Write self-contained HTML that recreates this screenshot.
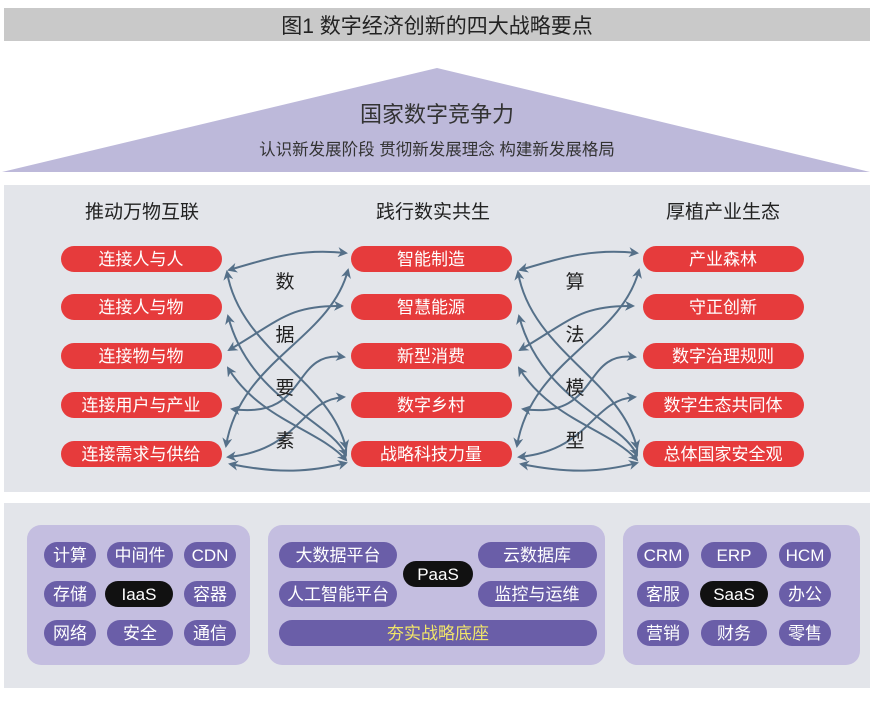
<!DOCTYPE html>
<html><head><meta charset="utf-8">
<style>
body{margin:0;width:884px;height:699px;background:#fff;overflow:hidden}
svg text{font-family:"Liberation Sans","Noto Sans CJK SC",sans-serif}
</style></head><body>
<svg width="884" height="699" viewBox="0 0 884 699" xmlns="http://www.w3.org/2000/svg">
<defs>
<marker id="ah" viewBox="0 0 10 10" refX="8" refY="5" markerWidth="5" markerHeight="5" orient="auto-start-reverse">
<path d="M0,0 L10,5 L0,10 L3,5 z" fill="#557089"/>
</marker>
<g id="arr" fill="none" stroke="#557089" stroke-width="2" marker-start="url(#ah)" marker-end="url(#ah)">
<path d="M229,270 C270,258 300,248 346,253"/>
<path d="M227,272 C240,350 330,380 346,448"/>
<path d="M228,316 C250,400 330,420 346,455"/>
<path d="M228,368 C260,420 320,430 346,460"/>
<path d="M229,350 C280,320 290,305 342,306"/>
<path d="M226,446 C240,360 330,340 348,270"/>
<path d="M232,409 C310,420 290,350 344,357"/>
<path d="M228,457 C300,450 300,400 344,397"/>
<path d="M230,464 C280,474 310,472 346,463"/>
</g>
</defs>
<rect x="4" y="8" width="866" height="33" fill="#c9c9c9"/>
<text x="437" y="33" font-size="21" text-anchor="middle" fill="#222">图1 数字经济创新的四大战略要点</text>
<polygon points="437,68 870,172 2,172" fill="#bdb9da"/>
<text x="437" y="122" font-size="22" text-anchor="middle" fill="#333">国家数字竞争力</text>
<text x="437" y="155" font-size="16.5" text-anchor="middle" fill="#333">认识新发展阶段  贯彻新发展理念  构建新发展格局</text>
<rect x="4" y="185" width="866" height="307" fill="#e3e5ea"/>
<g font-size="19" text-anchor="middle" fill="#222">
<text x="142" y="218">推动万物互联</text><text x="433" y="218">践行数实共生</text><text x="723" y="218">厚植产业生态</text>
</g>
<g fill="#e63b3c">
<rect x="61" y="246" width="161" height="26" rx="13"/><rect x="61" y="294" width="161" height="26" rx="13"/><rect x="61" y="343" width="161" height="26" rx="13"/><rect x="61" y="392" width="161" height="26" rx="13"/><rect x="61" y="441" width="161" height="26" rx="13"/>
<rect x="351" y="246" width="161" height="26" rx="13"/><rect x="351" y="294" width="161" height="26" rx="13"/><rect x="351" y="343" width="161" height="26" rx="13"/><rect x="351" y="392" width="161" height="26" rx="13"/><rect x="351" y="441" width="161" height="26" rx="13"/>
<rect x="643" y="246" width="161" height="26" rx="13"/><rect x="643" y="294" width="161" height="26" rx="13"/><rect x="643" y="343" width="161" height="26" rx="13"/><rect x="643" y="392" width="161" height="26" rx="13"/><rect x="643" y="441" width="161" height="26" rx="13"/>
</g>
<g font-size="17" text-anchor="middle" fill="#fff">
<text x="141" y="265">连接人与人</text><text x="141" y="313">连接人与物</text><text x="141" y="362">连接物与物</text><text x="141" y="411">连接用户与产业</text><text x="141" y="460">连接需求与供给</text>
<text x="431" y="265">智能制造</text><text x="431" y="313">智慧能源</text><text x="431" y="362">新型消费</text><text x="431" y="411">数字乡村</text><text x="431" y="460">战略科技力量</text>
<text x="723" y="265">产业森林</text><text x="723" y="313">守正创新</text><text x="723" y="362">数字治理规则</text><text x="723" y="411">数字生态共同体</text><text x="723" y="460">总体国家安全观</text>
</g>
<use href="#arr"/>
<use href="#arr" transform="translate(291,0)"/>
<g font-size="19" text-anchor="middle" fill="#222">
<text x="285" y="288">数</text><text x="285" y="341">据</text><text x="285" y="394">要</text><text x="285" y="447">素</text>
<text x="575" y="288">算</text><text x="575" y="341">法</text><text x="575" y="394">模</text><text x="575" y="447">型</text>
</g>
<rect x="4" y="503" width="866" height="185" fill="#e3e5ea"/>
<rect x="27" y="525" width="223" height="140" rx="14" fill="#c4bee0"/>
<rect x="268" y="525" width="337" height="140" rx="14" fill="#c4bee0"/>
<rect x="623" y="525" width="237" height="140" rx="14" fill="#c4bee0"/>
<g fill="#6a5ea8">
<rect x="44" y="542" width="52" height="26" rx="13"/><rect x="107" y="542" width="66" height="26" rx="13"/><rect x="184" y="542" width="52" height="26" rx="13"/>
<rect x="44" y="581" width="52" height="26" rx="13"/><rect x="184" y="581" width="52" height="26" rx="13"/>
<rect x="44" y="620" width="52" height="26" rx="13"/><rect x="107" y="620" width="66" height="26" rx="13"/><rect x="184" y="620" width="52" height="26" rx="13"/>
<rect x="279" y="542" width="118" height="26" rx="13"/><rect x="279" y="581" width="118" height="26" rx="13"/>
<rect x="478" y="542" width="119" height="26" rx="13"/><rect x="478" y="581" width="119" height="26" rx="13"/>
<rect x="279" y="620" width="318" height="26" rx="13"/>
<rect x="637" y="542" width="52" height="26" rx="13"/><rect x="701" y="542" width="66" height="26" rx="13"/><rect x="779" y="542" width="52" height="26" rx="13"/>
<rect x="637" y="581" width="52" height="26" rx="13"/><rect x="779" y="581" width="52" height="26" rx="13"/>
<rect x="637" y="620" width="52" height="26" rx="13"/><rect x="701" y="620" width="66" height="26" rx="13"/><rect x="779" y="620" width="52" height="26" rx="13"/>
</g>
<g fill="#111"><rect x="105" y="581" width="68" height="26" rx="13"/><rect x="403" y="561" width="70" height="26" rx="13"/><rect x="700" y="581" width="68" height="26" rx="13"/></g>
<g font-size="17" text-anchor="middle" fill="#fff">
<text x="70" y="561">计算</text><text x="140" y="561">中间件</text><text x="210" y="561">CDN</text>
<text x="70" y="600">存储</text><text x="139" y="600">IaaS</text><text x="210" y="600">容器</text>
<text x="70" y="639">网络</text><text x="140" y="639">安全</text><text x="210" y="639">通信</text>
<text x="338" y="561">大数据平台</text><text x="338" y="600">人工智能平台</text>
<text x="537" y="561">云数据库</text><text x="537" y="600">监控与运维</text>
<text x="438" y="580">PaaS</text>
<text x="438" y="639" fill="#f0e56a">夯实战略底座</text>
<text x="663" y="561">CRM</text><text x="734" y="561">ERP</text><text x="805" y="561">HCM</text>
<text x="663" y="600">客服</text><text x="734" y="600">SaaS</text><text x="805" y="600">办公</text>
<text x="663" y="639">营销</text><text x="734" y="639">财务</text><text x="805" y="639">零售</text>
</g>
</svg>
</body></html>
